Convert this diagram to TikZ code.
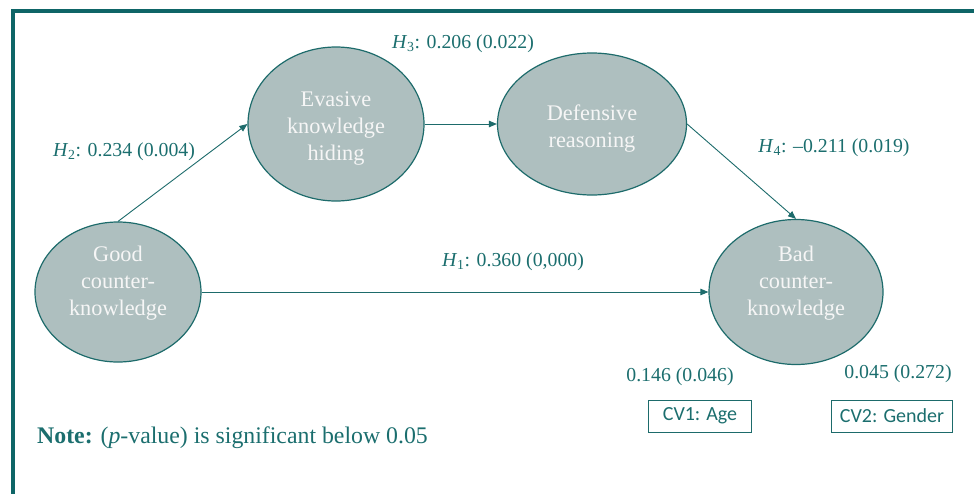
\documentclass[tikz,border=0pt]{standalone}
\usepackage{fontspec}
\setmainfont{Liberation Serif}
\newfontfamily\cvfont{Carlito}
\usetikzlibrary{shapes.geometric,arrows.meta}
\definecolor{framec}{HTML}{0E6567}
\definecolor{tealtxt}{HTML}{1B6E6E}
\definecolor{ellfill}{HTML}{AEBFBF}
\definecolor{ellline}{HTML}{1D6B6B}
\definecolor{elltxt}{HTML}{F6F6F6}
\tikzset{
  construct/.style={ellipse, draw=ellline, line width=1.2pt, fill=ellfill, inner sep=0pt},
  ctext/.style={align=center, text=elltxt, font=\fontsize{22.3}{27}\selectfont, inner sep=0pt},
  path/.style={draw=ellline, line width=0.9pt, -{Triangle[length=8pt,width=6.5pt]}},
  coef/.style={text=tealtxt, font=\fontsize{19.8}{22}\selectfont, inner sep=0pt},
  cvbox/.style={draw=ellline, line width=1pt, text=tealtxt, font=\cvfont\fontsize{20}{22}\selectfont, inner sep=0pt},
}
\begin{document}
\begin{tikzpicture}[x=1pt,y=-1pt]
\useasboundingbox (0,0) rectangle (974,493);
% frame
\draw[framec, line width=4pt] (13,495) -- (13,11) -- (976,11);
% constructs
\node[construct, minimum width=166pt, minimum height=140pt] (good) at (118,292) {};
\node[construct, minimum width=176pt, minimum height=154pt] (eva) at (336,124) {};
\node[construct, minimum width=189pt, minimum height=142pt] (def) at (592,124) {};
\node[construct, minimum width=174pt, minimum height=145pt] (bad) at (796,292) {};
\node[ctext] (goodt) at (118,283) {Good\\counter-\\knowledge};
\node[ctext] (evat) at (336,129) {Evasive\\knowledge\\hiding};
\node[ctext] (deft) at (592,129) {Defensive\\reasoning};
\node[ctext] (badt) at (796,283) {Bad\\counter-\\knowledge};
% paths
\draw[path] (good.north) -- (eva.west);
\draw[path] (eva.east) -- (def.west);
\draw[path] (def.east) -- (bad.north);
\draw[path] (good.east) -- (bad.west);
% coefficients
\node[coef] (h3) at (463,44) {\textit{H}\textsubscript{3}: 0.206 (0.022)};
\node[coef] (h2) at (124,152) {\textit{H}\textsubscript{2}: 0.234 (0.004)};
\node[coef] (h4) at (834,148) {\textit{H}\textsubscript{4}: –0.211 (0.019)};
\node[coef] (h1) at (513,262) {\textit{H}\textsubscript{1}: 0.360 (0,000)};
\node[coef] (c1) at (680,377) {0.146 (0.046)};
\node[coef] (c2) at (898,374) {0.045 (0.272)};
% control variables
\node[cvbox, minimum width=103pt, minimum height=32pt] (cv1) at (700,416) {CV1: Age};
\node[cvbox, minimum width=121pt, minimum height=32pt] (cv2) at (892,416) {CV2: Gender};
% note
\node[anchor=base west, text=tealtxt, font=\fontsize{23.8}{26}\selectfont, inner sep=0pt] (note) at (37,443) {\textbf{Note:} (\textit{p}-value) is significant below 0.05};
\end{tikzpicture}
\end{document}
